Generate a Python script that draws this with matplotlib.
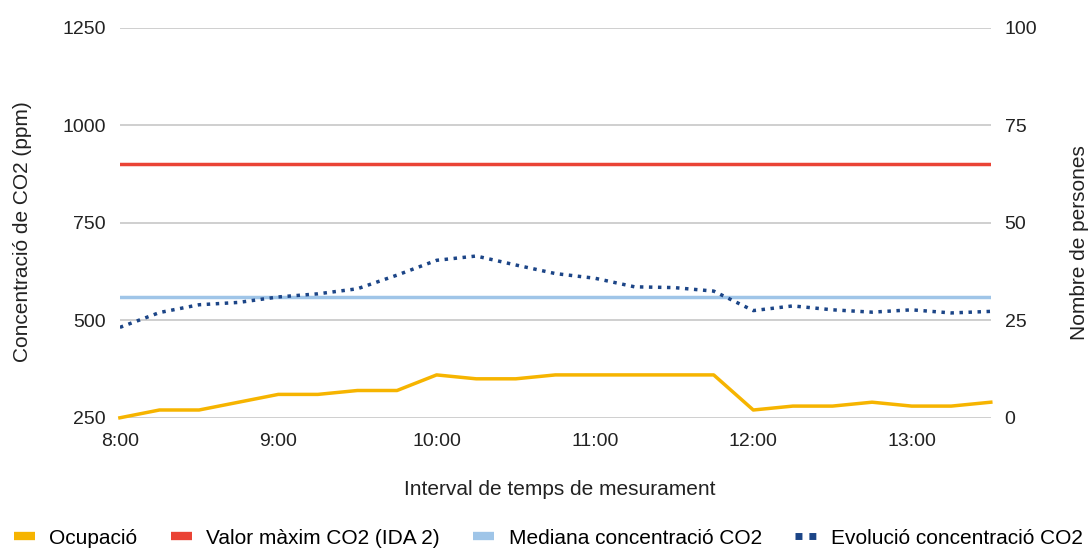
import matplotlib
matplotlib.use("Agg")
import matplotlib.pyplot as plt
from matplotlib.lines import Line2D

plt.rcParams['font.family'] = ['Liberation Sans', 'DejaVu Sans']

times = ["8:00", "8:15", "8:30", "8:45", "9:00", "9:15", "9:30", "9:45",
         "10:00", "10:15", "10:30", "10:45", "11:00", "11:15", "11:30", "11:45",
         "12:00", "12:15", "12:30", "12:45", "13:00", "13:15", "13:30"]
co2 = [482, 520, 540, 546, 560, 568, 581, 616, 654, 665, 642, 620,
       608, 586, 584, 575, 525, 537, 527, 521, 527, 519, 523]
occupancy = [0, 2, 2, 4, 6, 6, 7, 7, 11, 10, 10, 11,
             11, 11, 11, 11, 2, 3, 3, 4, 3, 3, 4]
co2_max = 900
co2_median = 560
xtick_labels = ["8:00", "9:00", "10:00", "11:00", "12:00", "13:00"]

def to_min(t):
    h, m = t.split(":")
    return (int(h) - 8) * 60 + int(m)

x = [to_min(t) for t in times]
xt = [to_min(t) for t in xtick_labels]

c_yellow = "#f6b400"
c_red = "#ea4335"
c_lblue = "#9fc5e8"
c_dblue = "#1c4587"
c_text = "#222222"

fig = plt.figure(figsize=(10.9, 5.49), dpi=100)
ax = fig.add_axes([0.110, 0.239, 0.799, 0.710])
ax2 = ax.twinx()

ax.set_xlim(x[0], x[-1])
ax.set_ylim(250, 1250)
ax.set_yticks([250, 500, 750, 1000, 1250])
ax2.set_ylim(0, 100)
ax2.set_yticks([0, 25, 50, 75, 100])
ax.set_xticks(xt)
ax.set_xticklabels(xtick_labels)

ax.grid(axis='y', color='#cccccc', linewidth=1.3)
for a in (ax, ax2):
    for s in a.spines.values():
        s.set_visible(False)
    a.tick_params(length=0, labelsize=14, colors=c_text)
ax.tick_params(axis='y', pad=10)
ax2.tick_params(axis='y', pad=10)
ax.tick_params(axis='x', pad=11)
ax.set_axisbelow(True)

ax.axhline(co2_max, color=c_red, lw=2.5, zorder=2)
ax.axhline(co2_median, color=c_lblue, lw=2.5, zorder=2)
ax.plot(x, co2, color=c_dblue, lw=2.5, linestyle=(0, (1, 1.6)),
        dash_capstyle='butt', zorder=3)
ax2.plot(x, occupancy, color=c_yellow, lw=2.5, zorder=3, clip_on=False)

ax.set_xlabel("Interval de temps de mesurament", fontsize=15, color=c_text)
ax.xaxis.set_label_coords(0.505, -0.159)
ax.set_ylabel("Concentració de CO2 (ppm)", fontsize=15, color=c_text)
ax.yaxis.set_label_coords(-0.101, 0.477)
ax2.set_ylabel("Nombre de persones", fontsize=15, color=c_text)
ax2.yaxis.set_label_coords(1.091, 0.45)

handles = [
    Line2D([], [], color=c_yellow, lw=6, solid_capstyle='butt'),
    Line2D([], [], color=c_red, lw=6, solid_capstyle='butt'),
    Line2D([], [], color=c_lblue, lw=6, solid_capstyle='butt'),
    Line2D([], [], color=c_dblue, lw=5, linestyle=(0, (1, 1)), dash_capstyle='butt'),
]
labels = ["Ocupació", "Valor màxim CO2 (IDA 2)", "Mediana concentració CO2",
          "Evolució concentració CO2"]
fig.legend(handles, labels, loc='center', bbox_to_anchor=(0.503, 0.02),
           ncol=4, frameon=False, fontsize=15, handlelength=1.0,
           handletextpad=0.7, columnspacing=1.6, borderaxespad=0, borderpad=0)

fig.savefig("out.png", dpi=100)
